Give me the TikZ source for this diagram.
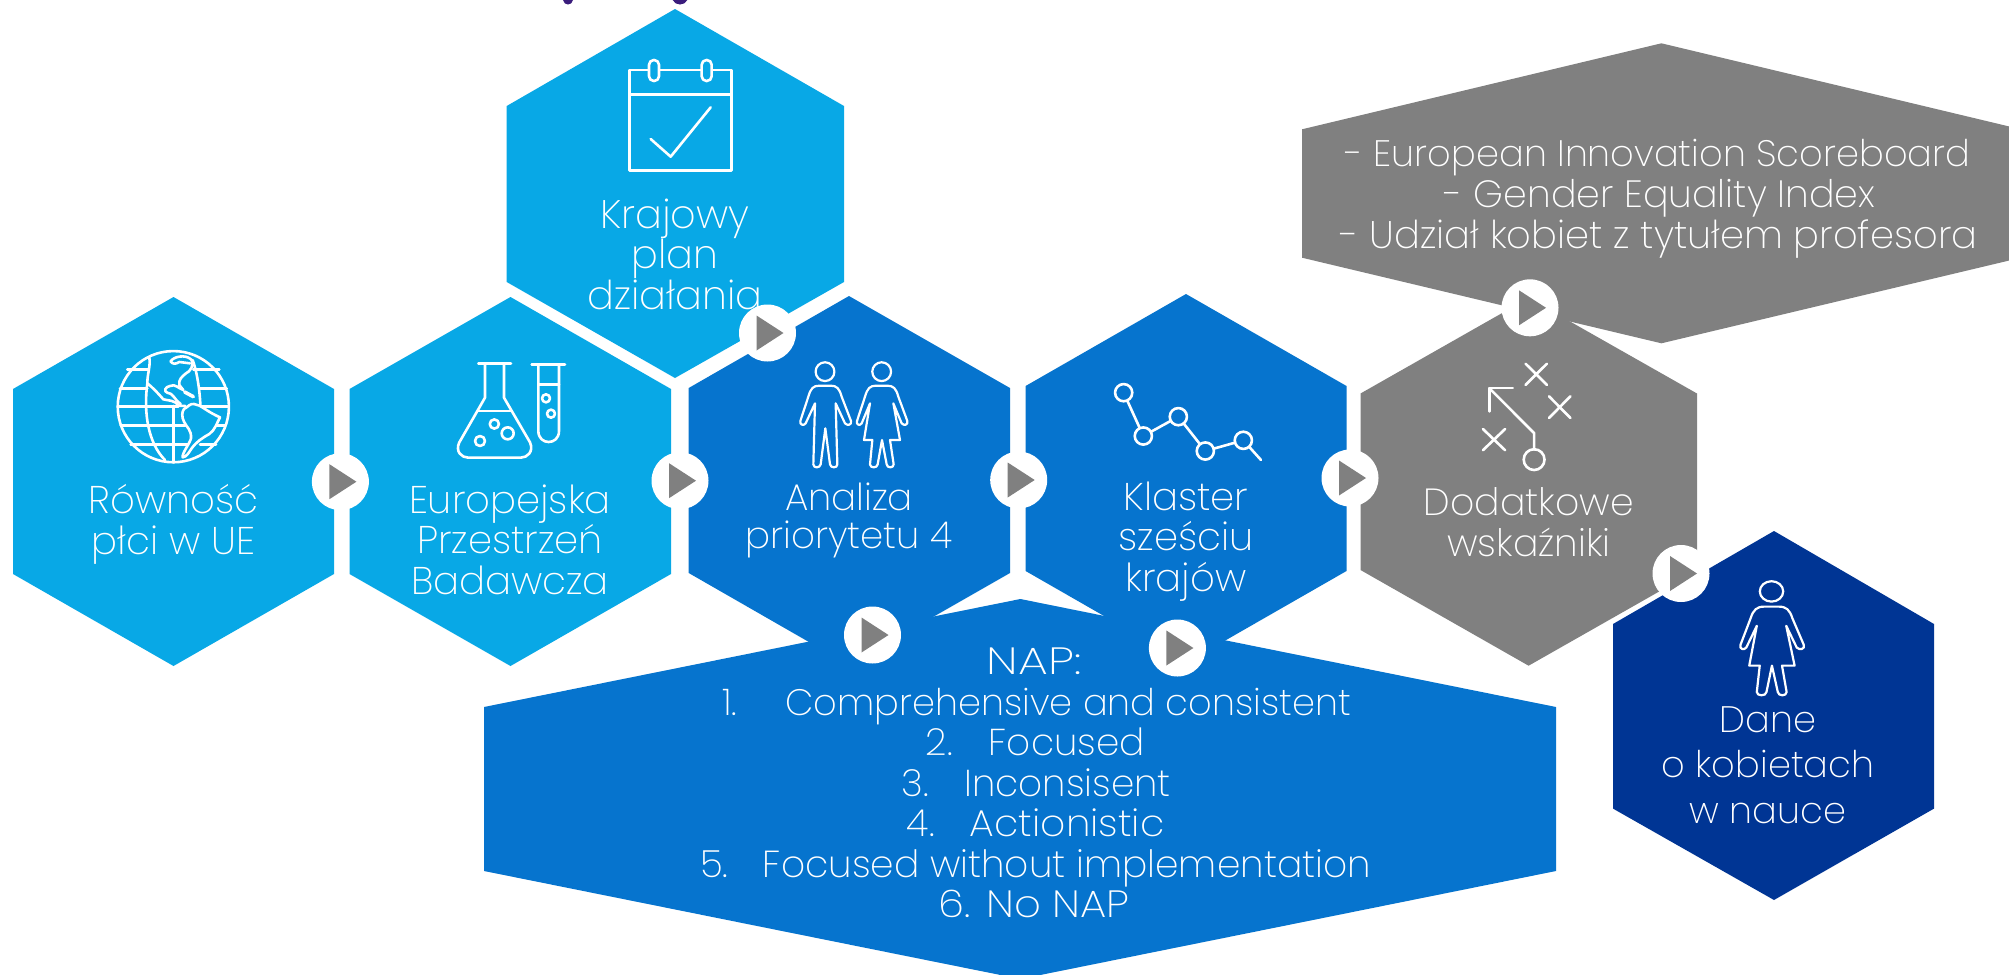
\documentclass[tikz,border=0pt]{standalone}
\usepackage{fontspec}
\setmainfont{Poppins ExtraLight}
\definecolor{hlight}{HTML}{08A8E6}
\definecolor{hmid}{HTML}{0674CE}
\definecolor{hdark}{HTML}{003594}
\definecolor{hgrey}{HTML}{808080}
\definecolor{titlepurple}{HTML}{3A1C7C}
\tikzset{
  lbl/.style={text=white,align=center,inner sep=0pt,anchor=base,font=\fontsize{19.3}{20.2}\selectfont},
  napline/.style={text=white,inner sep=0pt,anchor=base west,font=\fontsize{18.7}{20}\selectfont},
  greyline/.style={text=white,inner sep=0pt,anchor=base,font=\fontsize{19}{20}\selectfont},
  playc/.style={circle,fill=white,minimum size=28.5pt,inner sep=0pt},
  playt/.style={fill=hgrey},
  ico/.style={draw=white,line width=1.3pt,line join=round,line cap=round},
  z3/.style={x=0.16667pt,y=-0.16667pt},
}
\newcommand{\playbtn}[3]{%
  \node[playc] (#1) at (#2,#3) {};
  \fill[playt,shift={(#2,#3)}] (-11,-17.5) -- (16,0) -- (-11,17.5) -- cycle;}
\newcommand{\womanshape}{%
  (240,145) -- (215,205) .. controls (210,213) and (198,210) .. (201,198) -- (225,125) .. controls (232,100) and (240,92) .. (258,92) -- (292,92) .. controls (310,92) and (318,100) .. (325,125) -- (352,198) .. controls (355,210) and (342,213) .. (335,205) -- (310,145) -- (330,255) -- (300,255) -- (311,328) .. controls (311,340) and (291,340) .. (290,328) -- (276,255) -- (263,328) .. controls (262,340) and (240,340) .. (240,328) -- (247,255) -- (222,255) -- cycle}
\begin{document}
\begin{tikzpicture}[x=0.5pt,y=-0.5pt]
\useasboundingbox (0,0) rectangle (2009,975);
\fill[white] (0,0) rectangle (2009,975);
\clip (0,0) rectangle (2009,975);
% title remnants
\fill[titlepurple] (563,0) .. controls (564,6) and (572,6) .. (573,0) -- cycle;
\fill[titlepurple] (672.7,0) .. controls (675,6) and (685,6) .. (687.3,0) -- cycle;
% hexagons
\fill[hlight] (173.5,297) -- (334,389) -- (334,574) -- (173.5,666) -- (13,574) -- (13,389) -- cycle;
\fill[hlight] (510.5,297) -- (671,389) -- (671,574) -- (510.5,666) -- (349.5,574) -- (349.5,389) -- cycle;
\fill[hlight] (675,9) -- (844,106) -- (844,282) -- (675,378) -- (506.7,282) -- (506.7,106) -- cycle;
\fill[hmid] (849,296) -- (1010,388) -- (1010,573) -- (849,665) -- (688.7,573) -- (688.7,388) -- cycle;
\fill[hmid] (1186,294) -- (1346.5,386) -- (1346.5,571) -- (1186,663) -- (1025.6,571) -- (1025.6,386) -- cycle;
\fill[hmid] (484,707) -- (1020.4,599) -- (1556,707) -- (1556,871) -- (1020.4,979) -- (484,871) -- cycle;
\fill[hgrey] (1528.6,298) -- (1697,393.5) -- (1697,570) -- (1528.6,665.7) -- (1360.5,570) -- (1360.5,393.5) -- cycle;
\fill[hgrey] (1661.4,43.3) -- (2021,129.3) -- (2021,257.7) -- (1661.4,343.3) -- (1302,257.7) -- (1302,129.3) -- cycle;
\fill[hdark] (1774,531) -- (1934,624) -- (1934,808.6) -- (1774,900) -- (1613,808.6) -- (1613,624) -- cycle;
% calendar icon
\begin{scope}[shift={(480,0)},z3]
  \draw[ico] (448,210) rectangle (755,512);
  \draw[ico] (448,284) -- (755,284);
  \draw[ico,fill=hlight,rounded corners=2.4pt] (507,180) rectangle (537,243);
  \draw[ico,fill=hlight,rounded corners=2.4pt] (665,180) rectangle (695,243);
  \draw[ico] (512,417) -- (572,470) -- (692,322);
\end{scope}
% globe icon
\begin{scope}[shift={(110,340)},z3]
  \draw[ico] (190,200) circle[radius=27.8pt];
  \draw[ico] (52,88) -- (115,88) (250,88) -- (328,88);
  \draw[ico] (30,145) -- (112,145) (268,145) -- (350,145);
  \draw[ico] (24,200) -- (205,200) (272,200) -- (356,200);
  \draw[ico] (32,257) -- (226,257) (300,257) -- (346,257);
  \draw[ico] (62,313) -- (240,313) (270,313) -- (318,313);
  \draw[ico] (190,198) -- (190,367);
  \draw[ico] (118,52) .. controls (122,80) and (112,100) .. (112,130) .. controls (100,220) and (115,310) .. (165,360);
  \draw[ico] (248,60) .. controls (270,120) and (278,230) .. (268,300);
  \draw[ico] (112,130) .. controls (125,140) and (140,155) .. (160,178) .. controls (175,182) and (195,180) .. (206,197) -- (226,198);
  \draw[ico] (182,64) .. controls (190,50) and (225,42) .. (243,58) .. controls (255,75) and (240,95) .. (228,100) .. controls (215,110) and (205,120) .. (208,135) -- (220,150) .. controls (205,145) and (195,130) .. (180,138) .. controls (165,140) and (160,155) .. (172,158) .. controls (190,160) and (190,175) .. (212,192);
  \draw[ico] (182,64) .. controls (188,74) and (198,72) .. (208,66) -- (240,70);
  \draw[ico,fill=hlight] (222,207) .. controls (235,200) and (240,190) .. (252,192) .. controls (275,195) and (285,212) .. (330,232) .. controls (320,250) and (315,270) .. (298,282) .. controls (275,295) and (260,305) .. (245,325) .. controls (235,340) and (230,350) .. (218,352) .. controls (215,340) and (240,310) .. (243,295) .. controls (245,270) and (230,262) .. (222,245) .. controls (215,232) and (215,215) .. (222,207) -- cycle;
  \draw[ico,line width=1.8pt] (224,156) -- (250,170);
\end{scope}
% flask icon
\begin{scope}[shift={(450,355)},z3]
  \draw[ico] (85,25) -- (183,25);
  \draw[ico] (105,25) -- (105,128) -- (28,262) .. controls (15,290) and (35,308) .. (55,308) -- (212,308) .. controls (232,308) and (252,290) .. (240,262) -- (162,128) -- (162,25);
  \draw[ico] (82,168) -- (185,168);
  \draw[ico] (133,207) circle[radius=2.3pt];
  \draw[ico] (173,235) circle[radius=3pt];
  \draw[ico] (90,258) circle[radius=2.5pt];
  \draw[ico] (245,28) -- (345,28);
  \draw[ico] (265,28) -- (265,228) .. controls (265,272) and (327,272) .. (327,228) -- (327,28);
  \draw[ico] (265,88) -- (327,88);
  \draw[ico] (288,130) circle[radius=2pt];
  \draw[ico] (303,176) circle[radius=2pt];
\end{scope}
% people icon
\begin{scope}[shift={(790,355)},z3]
  \draw[ico,line width=1.1pt] (105,50) circle[radius=4.7pt];
  \draw[ico,line width=1.1pt] (75,145) -- (47,205) .. controls (42,213) and (28,210) .. (31,198) -- (55,125) .. controls (62,100) and (70,92) .. (88,92) -- (122,92) .. controls (140,92) and (148,100) .. (155,125) -- (183,198) .. controls (186,210) and (172,213) .. (165,205) -- (137,145) -- (142,328) .. controls (142,340) and (122,340) .. (120,328) -- (106,220) -- (92,328) .. controls (90,340) and (70,340) .. (70,328) -- cycle;
  \draw[ico,line width=1.1pt] (275,50) circle[radius=4.7pt];
  \draw[ico,line width=1.1pt] \womanshape;
\end{scope}
% network icon
\begin{scope}[shift={(1105,375)},z3]
  \draw[ico] (56,53) -- (115,183) -- (220,125) -- (301,228) -- (415,196) -- (468,255);
  \draw[ico,fill=hmid] (56,53) circle[radius=4.3pt];
  \draw[ico,fill=hmid] (115,183) circle[radius=4.3pt];
  \draw[ico,fill=hmid] (220,125) circle[radius=4.3pt];
  \draw[ico,fill=hmid] (301,228) circle[radius=4.3pt];
  \draw[ico,fill=hmid] (415,196) circle[radius=4.3pt];
\end{scope}
% tactics icon
\begin{scope}[shift={(1340,280)},x=0.2133pt,y=-0.2041pt]
  \draw[ico] (435,205) -- (485,257) (485,205) -- (435,257);
  \draw[ico] (490,285) -- (540,338) (540,285) -- (490,338);
  \draw[ico] (335,365) -- (387,417) (387,365) -- (335,417);
  \draw[ico] (455,416) -- (455,375) -- (350,265);
  \draw[ico] (405,265) -- (350,265) -- (350,322);
  \draw[ico] (455,440) circle[radius=5.2pt];
\end{scope}
% woman icon
\begin{scope}[shift={(1656,573.3)},x=0.21pt,y=-0.181pt]
  \draw[ico,line width=1.1pt] (275,50) ellipse[x radius=5.85pt,y radius=5.1pt];
  \draw[ico,line width=1.1pt] \womanshape;
\end{scope}
% labels
\node[lbl] (t1) at (173.5,554) {Równość\\płci w UE};
\node[lbl] (t2) at (510,594) {Europejska\\Przestrzeń\\Badawcza};
\node[lbl,font=\fontsize{19.9}{20.2}\selectfont] (t3) at (675,309) {Krajowy\\plan\\działania};
\node[lbl,font=\fontsize{18.6}{18.7}\selectfont] (t4) at (849,548) {Analiza\\priorytetu 4};
\node[lbl] (t5) at (1186,591) {Klaster\\sześciu\\krajów};
\node[lbl,font=\fontsize{18.9}{20.2}\selectfont] (t6) at (1529,556) {Dodatkowe\\wskaźniki};
\node[lbl,font=\fontsize{18.4}{22.7}\selectfont] (t7) at (1768,823) {Dane\\o kobietach\\w nauce};
% grey box text
\node[greyline,font=\fontsize{18.4}{20}\selectfont] (g1) at (1658,166) {- European Innovation Scoreboard};
\node[greyline] (g2) at (1660,207) {- Gender Equality Index};
\node[greyline,font=\fontsize{19.2}{20}\selectfont] (g3) at (1659,248) {- Udział kobiet z tytułem profesora};
% NAP text
\node[greyline] (n0) at (1034,674) {\addfontfeatures{FakeStretch=1.25}NAP:};
\node[napline,font=\fontsize{18.4}{20}\selectfont] (n1) at (722,715) {\makebox[31.5pt][l]{1.}Comprehensive and consistent};
\node[napline] (n2) at (925.5,755.5) {\makebox[31.5pt][l]{2.}Focused};
\node[napline] (n3) at (901,796) {\makebox[31.5pt][l]{3.}Inconsisent};
\node[napline] (n4) at (906.5,836) {\makebox[31.5pt][l]{4.}\addfontfeatures{FakeStretch=1.05}Actionistic};
\node[napline,font=\fontsize{18.8}{20}\selectfont] (n5) at (699.6,877) {\makebox[31.5pt][l]{5.}Focused without implementation};
\node[greyline] (n6) at (1034,917) {\addfontfeatures{FakeStretch=1.1}6. No NAP};
% play buttons
\playbtn{c1}{340.4}{481.7}
\playbtn{c2}{680}{480.7}
\playbtn{c3}{767.5}{333}
\playbtn{c4}{1018.7}{480}
\playbtn{c5}{1350}{478}
\playbtn{c6}{872.5}{635}
\playbtn{c7}{1177.4}{648}
\playbtn{c8}{1530}{307.8}
\playbtn{c9}{1681}{573.5}
\end{tikzpicture}
\end{document}
